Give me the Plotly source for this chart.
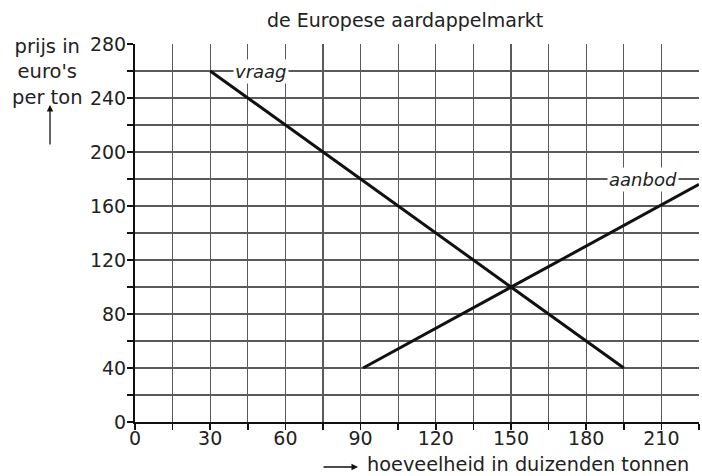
import plotly.graph_objects as go

# ---- data ----
demand_q = [30, 195]
demand_p = [260, 40]
supply_q = [91, 225]
supply_p = [40, 176]
x_tickvals = [0, 30, 60, 90, 120, 150, 180, 210]
y_tickvals = [0, 40, 80, 120, 160, 200, 240, 280]
title_text = "de Europese aardappelmarkt"
y_title = "prijs in<br>euro's<br>per ton"
x_title = "hoeveelheid in duizenden tonnen"

W, H = 702, 476
L, R, T, B = 135, 3, 44, 54
pw, ph = W - L - R, H - T - B


def px(xp):
    return (xp - L) / pw


def py(yp):
    return (H - B - yp) / ph


FONT = "DejaVu Sans, Liberation Sans, Arial, sans-serif"
GRID = "#5a5a5a"

fig = go.Figure()
fig.add_trace(go.Scatter(x=demand_q, y=demand_p, mode="lines",
                         line=dict(color="#111", width=3), showlegend=False,
                         hoverinfo="skip"))
fig.add_trace(go.Scatter(x=supply_q, y=supply_p, mode="lines",
                         line=dict(color="#111", width=3), showlegend=False,
                         hoverinfo="skip"))

axis_common = dict(showgrid=True, gridcolor=GRID, gridwidth=1.3,
                   zeroline=False, showline=True, linecolor="#111",
                   linewidth=2, ticks="outside", ticklen=6, tickcolor="#111",
                   tickwidth=1.5, tickfont=dict(size=19), fixedrange=True)

fig.update_layout(
    width=W, height=H,
    margin=dict(l=L, r=R, t=T, b=B),
    paper_bgcolor="white", plot_bgcolor="white",
    font=dict(family=FONT, size=19, color="#222"),
    xaxis=dict(range=[0, 225], tickvals=x_tickvals, ticklabelstandoff=-8,
               minor=dict(dtick=15, tick0=0, showgrid=True, gridcolor=GRID,
                          gridwidth=1.3, ticks="outside", ticklen=6,
                          tickcolor="#111", tickwidth=1.5),
               **axis_common),
    yaxis=dict(range=[0, 280], tickvals=y_tickvals, ticklabelstandoff=-3,
               minor=dict(dtick=20, tick0=0, showgrid=True, gridcolor=GRID,
                          gridwidth=1.3, ticks="outside", ticklen=6,
                          tickcolor="#111", tickwidth=1.5),
               **axis_common),
    showlegend=False,
)

ann = []
# title
ann.append(dict(xref="paper", yref="paper", x=px(405), y=py(20),
                text=title_text, showarrow=False, xanchor="center",
                yanchor="middle", font=dict(size=19)))
# y-axis title
ann.append(dict(xref="paper", yref="paper", x=px(47), y=py(72),
                text=y_title, showarrow=False, xanchor="center",
                yanchor="middle", align="center", font=dict(size=19.5)))
ann.append(dict(xref="paper", yref="paper", x=px(50), y=py(105), text="",
                showarrow=True, ax=0, ay=41, arrowhead=2, arrowsize=1,
                arrowwidth=1.3, arrowcolor="#111"))
# x-axis title
ann.append(dict(xref="paper", yref="paper", x=px(365), y=py(464),
                text=x_title, showarrow=False, xanchor="left",
                yanchor="middle", font=dict(size=19.3)))
ann.append(dict(xref="paper", yref="paper", x=px(358), y=py(467), text="",
                showarrow=True, ax=-36, ay=0, arrowhead=2, arrowsize=1,
                arrowwidth=1.3, arrowcolor="#111"))
# curve labels
ann.append(dict(x=50.3, y=260, text="<i>vraag</i>", showarrow=False,
                bgcolor="white", borderpad=1, font=dict(size=18),
                xanchor="center", yanchor="middle"))
ann.append(dict(x=202.6, y=180, text="<i>aanbod</i>", showarrow=False,
                bgcolor="white", borderpad=1, font=dict(size=18),
                xanchor="center", yanchor="middle"))
fig.update_layout(annotations=ann)

fig.write_html(
    "out.html",
    config={"displayModeBar": False, "staticPlot": True},
    post_script="document.body.style.margin='0';"
                "document.body.style.overflow='hidden';",
)
